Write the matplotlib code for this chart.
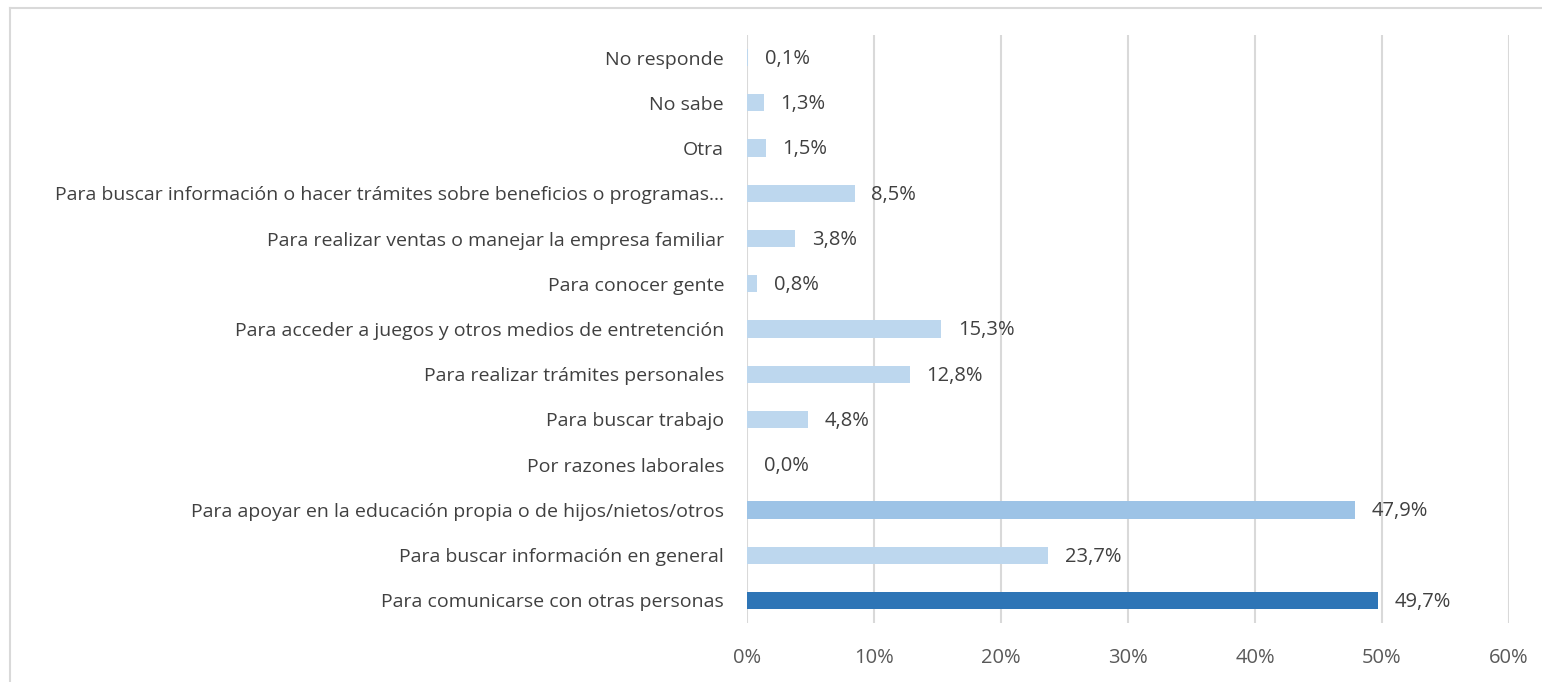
import matplotlib
matplotlib.use("Agg")
import matplotlib.pyplot as plt
from matplotlib.lines import Line2D

categories = [
    "No responde",
    "No sabe",
    "Otra",
    "Para buscar información o hacer trámites sobre beneficios o programas...",
    "Para realizar ventas o manejar la empresa familiar",
    "Para conocer gente",
    "Para acceder a juegos y otros medios de entretención",
    "Para realizar trámites personales",
    "Para buscar trabajo",
    "Por razones laborales",
    "Para apoyar en la educación propia o de hijos/nietos/otros",
    "Para buscar información en general",
    "Para comunicarse con otras personas",
]
values = [0.1, 1.3, 1.5, 8.5, 3.8, 0.8, 15.3, 12.8, 4.8, 0.0, 47.9, 23.7, 49.7]
colors = ["#BDD7EE"] * 10 + ["#9DC3E6", "#BDD7EE", "#2E75B6"]
xticks = [0, 10, 20, 30, 40, 50, 60]
xtick_labels = ["0%", "10%", "20%", "30%", "40%", "50%", "60%"]

plt.rcParams['font.family'] = ['Open Sans', 'DejaVu Sans']

W, H = 1542, 682
fig = plt.figure(figsize=(W / 100, H / 100), dpi=100)
ax = fig.add_axes([747 / W, 1 - 623 / H, (1509 - 747) / W, (623 - 35) / H])

n = len(categories)
ypos = list(range(n - 1, -1, -1))
ax.barh(ypos, values, height=0.38, color=colors, zorder=3)
for y, v in zip(ypos, values):
    ax.text(v + 1.3, y - 0.03, f"{v:.1f}%".replace(".", ","), va="center", ha="left",
            fontsize=14.5, color="#404040")

ax.set_xlim(0, 60)
ax.set_ylim(-0.5, n - 0.5)
ax.set_xticks(xticks)
ax.set_xticklabels(xtick_labels, fontsize=14.5, color="#595959")
ax.set_yticks(ypos)
ax.set_yticklabels(categories, fontsize=14, color="#404040")
ax.tick_params(axis="x", length=0, pad=18)
ax.tick_params(axis="y", length=0, pad=16.5)
ax.grid(axis="x", color="#D9D9D9", linewidth=1.5, zorder=0)
for s in ax.spines.values():
    s.set_visible(False)

# outer chart border (top and left)
fig.add_artist(Line2D([9.5 / W, 9.5 / W], [0, 1 - 8 / H], transform=fig.transFigure,
                      color="#D9D9D9", linewidth=1.5))
fig.add_artist(Line2D([9.5 / W, 1], [1 - 8 / H, 1 - 8 / H], transform=fig.transFigure,
                      color="#D9D9D9", linewidth=1.5))

fig.savefig("out.png", dpi=100, facecolor="white")
